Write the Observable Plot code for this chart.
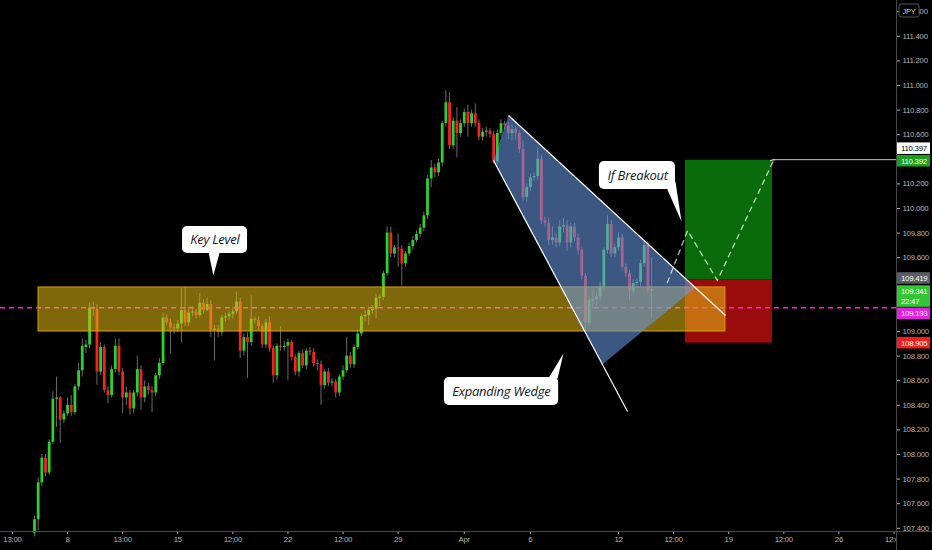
<!DOCTYPE html>
<html><head><meta charset="utf-8">
<script src="https://cdn.jsdelivr.net/npm/d3@7"></script>
<script src="https://cdn.jsdelivr.net/npm/@observablehq/plot@0.6"></script>
<style>
html,body{margin:0;padding:0;background:#000;}
#chart svg{display:block}
</style></head><body><div id="chart"></div>
<script>
// USD/JPY 4h candles (index = candle number)
const opens = [107.36,107.47,107.77,107.97,107.85,108.10,108.45,108.46,108.28,108.33,108.40,108.34,108.55,108.68,108.87,108.89,109.19,109.18,108.67,108.87,108.52,108.48,108.69,108.88,108.67,108.46,108.50,108.37,108.50,108.69,108.46,108.55,108.52,108.50,108.64,108.74,109.11,109.07,109.03,109.02,109.06,109.17,109.07,109.15,109.16,109.13,109.23,109.17,109.22,109.01,109.02,108.99,109.11,109.12,109.14,109.16,109.24,108.84,108.95,108.91,109.10,109.09,109.04,108.89,109.07,108.86,108.64,108.88,108.87,108.88,108.91,108.79,108.67,108.82,108.72,108.84,108.83,108.74,108.73,108.56,108.67,108.58,108.59,108.50,108.63,108.68,108.80,108.73,108.87,108.98,109.12,109.13,109.17,109.18,109.27,109.28,109.47,109.80,109.63,109.68,109.67,109.55,109.63,109.69,109.74,109.79,109.84,109.94,110.24,110.33,110.29,110.37,110.69,110.86,110.51,110.71,110.61,110.69,110.78,110.69,110.77,110.69,110.58,110.62,110.63,110.60,110.38,110.61,110.69,110.67,110.61,110.64,110.61,110.48,110.09,110.17,110.25,110.26,110.40,109.90,109.88,109.74,109.76,109.72,109.85,109.86,109.72,109.85,109.76,109.66,109.45,109.07,109.25,109.26,109.28,109.36,109.66,109.87,109.63,109.68,109.76,109.52,109.47,109.33,109.39,109.40,109.55,109.70,109.33];
const highs = [107.50,107.81,108.00,108.00,108.12,108.51,108.63,108.47,108.35,108.46,108.48,108.57,108.74,108.94,108.93,109.23,109.24,109.22,108.91,108.89,108.55,108.72,108.94,108.94,108.70,108.55,108.52,108.52,108.80,108.72,108.60,108.58,108.55,108.66,108.78,109.15,109.14,109.10,109.06,109.09,109.35,109.36,109.20,109.20,109.18,109.31,109.26,109.27,109.25,109.05,109.05,109.13,109.15,109.16,109.20,109.32,109.27,108.98,108.99,109.29,109.12,109.12,109.06,109.10,109.12,108.88,108.90,109.04,108.92,108.94,108.93,108.81,108.84,108.85,108.86,108.87,108.86,108.77,108.76,108.69,108.70,108.62,108.61,108.65,108.72,108.95,108.83,108.89,109.01,109.14,109.17,109.20,109.21,109.30,109.30,109.49,109.85,109.85,109.70,109.79,109.70,109.65,109.72,109.77,109.82,109.87,109.97,110.27,110.39,110.36,110.40,110.71,110.96,110.94,110.74,110.82,110.72,110.81,110.84,110.80,110.85,110.72,110.65,110.66,110.65,110.63,110.64,110.72,110.71,110.70,110.68,110.66,110.63,110.55,110.20,110.28,110.29,110.49,110.43,109.93,109.92,109.85,109.80,109.90,109.92,109.90,109.88,109.88,109.79,109.68,109.47,109.28,109.33,109.32,109.40,109.68,109.94,109.90,109.71,109.80,109.79,109.55,109.50,109.42,109.43,109.58,109.73,109.73,109.60];
const lows = [107.33,107.38,107.74,107.82,107.83,108.08,108.22,108.09,108.25,108.31,108.31,108.32,108.52,108.63,108.82,108.86,109.12,108.56,108.64,108.50,108.41,108.46,108.66,108.64,108.33,108.40,108.32,108.33,108.47,108.36,108.42,108.48,108.34,108.47,108.61,108.72,109.05,108.82,108.98,108.99,108.91,109.04,109.04,109.12,109.10,109.11,109.14,109.16,108.95,108.76,108.95,108.96,109.08,109.09,109.10,109.14,108.78,108.80,108.62,108.88,109.06,109.01,108.86,108.86,108.83,108.58,108.60,108.84,108.84,108.60,108.76,108.64,108.63,108.70,108.69,108.80,108.71,108.68,108.40,108.53,108.55,108.55,108.46,108.47,108.60,108.66,108.70,108.70,108.85,108.96,109.08,109.05,109.14,109.10,109.20,109.25,109.45,109.60,109.60,109.52,109.37,109.52,109.61,109.66,109.72,109.76,109.81,109.91,110.17,110.25,110.26,110.34,110.66,110.48,110.48,110.41,110.58,110.66,110.58,110.66,110.66,110.55,110.55,110.58,110.57,110.36,110.36,110.58,110.64,110.56,110.55,110.55,110.45,110.06,110.05,110.14,110.22,110.23,109.87,109.85,109.70,109.70,109.68,109.69,109.80,109.65,109.68,109.73,109.62,109.42,109.01,109.04,109.18,109.20,109.24,109.33,109.63,109.60,109.60,109.65,109.49,109.44,109.25,109.30,109.35,109.36,109.52,109.30,109.11];
const closes = [107.47,107.77,107.97,107.85,108.10,108.45,108.46,108.28,108.33,108.40,108.34,108.55,108.68,108.88,108.89,109.19,109.18,108.67,108.87,108.52,108.48,108.69,108.88,108.67,108.46,108.50,108.37,108.50,108.69,108.46,108.55,108.52,108.50,108.64,108.74,109.11,109.07,109.03,109.02,109.06,109.17,109.07,109.15,109.16,109.13,109.23,109.17,109.22,109.01,109.02,108.99,109.11,109.12,109.14,109.16,109.24,108.84,108.95,108.91,109.10,109.09,109.04,108.89,109.07,108.86,108.64,108.88,108.87,108.88,108.91,108.79,108.67,108.82,108.72,108.84,108.83,108.74,108.73,108.56,108.67,108.58,108.59,108.50,108.63,108.68,108.80,108.73,108.87,108.98,109.12,109.13,109.17,109.18,109.27,109.28,109.47,109.80,109.63,109.68,109.67,109.55,109.63,109.69,109.74,109.79,109.84,109.94,110.24,110.33,110.29,110.37,110.69,110.86,110.51,110.71,110.61,110.69,110.78,110.69,110.77,110.69,110.58,110.62,110.63,110.60,110.38,110.61,110.69,110.67,110.61,110.64,110.61,110.48,110.09,110.17,110.25,110.26,110.40,109.90,109.88,109.74,109.76,109.72,109.85,109.86,109.72,109.85,109.76,109.66,109.45,109.07,109.25,109.26,109.28,109.36,109.66,109.87,109.63,109.68,109.76,109.52,109.47,109.33,109.39,109.40,109.55,109.70,109.33,109.34];

const xTicks = [-6,9,24,39,54,69,84,99,117,135,159,174,189,204,219,234];
const xTickLabels = ["13:00","8","13:00","15","12:00","22","12:00","29","Apr","6","12","12:00","19","12:00","26","12:00"];
const yTicks = [107.4,107.6,107.8,108.0,108.2,108.4,108.6,108.8,109.0,109.2,109.4,109.6,109.8,110.0,110.2,110.4,110.6,110.8,111.0,111.2,111.4,111.6];
const yTicksCovered = [109.2, 109.4, 110.4]; // hidden behind price badges

// annotations (candle index, price)
const keyLevelX = [1.1, 188.1];
const keyLevelY = [109.0, 109.358];
const currentLevel = 109.193;
const tradeX = [177.2, 200.9];
const tradeEntry = 109.419, tradeTarget = 110.392, tradeStop = 108.905;
const rayLevel = 110.397, rayStart = 201.2;
const wedgeIdx = [124.97, 129.05, 179.96, 154.6];
const wedgePrice = [110.390, 110.756, 109.358, 108.732];
const wedgeLineX1 = [129.05, 124.97], wedgeLineY1 = [110.756, 110.390];
const wedgeLineX2 = [188.13, 161.45], wedgeLineY2 = [109.130, 108.350];
const pathIdx = [172.3, 177.8, 185.9, 201.2];
const pathPrice = [109.398, 109.821, 109.415, 110.390];
const calloutText = ["Key Level", "If Breakout", "Expanding Wedge"];
const calloutBoxX1 = [40.3, 153.8, 111.6], calloutBoxX2 = [58.0, 174.5, 142.7];
const calloutBoxY1 = [109.634, 110.154, 108.398], calloutBoxY2 = [109.854, 110.382, 108.626];
const calloutTextX = [49.1, 164.2, 127.1], calloutTextY = [109.745, 110.268, 108.512];
const tailIdx = [[47.4, 50.4, 48.7], [172.3, 174.5, 176.15], [139.9, 142.4, 144.0]];
const tailPrice = [[109.642, 109.642, 109.455], [110.154, 110.220, 109.894], [108.618, 108.618, 108.821]];
const badgeValue = [110.397, 110.392, 109.419, 109.341, 109.193, 108.905];
const badgeText = [["110.397"], ["110.392"], ["109.419"], ["109.341", "22:47"], ["109.193"], ["108.905"]];

const GREEN = "#2fcf2f", RED = "#f42323";
const xDomain = [-9.257, 234.68];
const yDomain = [107.374, 111.691];

const candles = opens.map((o, i) => ({i, o, h: highs[i], l: lows[i], c: closes[i]}));
const up = candles.filter(d => d.c >= d.o), down = candles.filter(d => d.c < d.o);
const wedge = wedgeIdx.map((x, k) => ({x, y: wedgePrice[k]}));
const wedgeLines = wedgeLineX1.map((x, k) => ({x1: x, y1: wedgeLineY1[k], x2: wedgeLineX2[k], y2: wedgeLineY2[k]}));
const path = pathIdx.map((x, k) => ({x, y: pathPrice[k]}));
const boxes = calloutText.map((t, k) => ({t, x1: calloutBoxX1[k], x2: calloutBoxX2[k], y1: calloutBoxY1[k], y2: calloutBoxY2[k], tx: calloutTextX[k], ty: calloutTextY[k]}));
const tails = tailIdx.flatMap((xs, k) => xs.map((x, j) => ({k, x, y: tailPrice[k][j]})));
const shownYTicks = yTicks.filter(v => !yTicksCovered.includes(v));

const FONT = "'Liberation Sans',Arial,sans-serif";
const chart = Plot.plot({
  width: 932, height: 550,
  marginTop: 0, marginRight: 36, marginBottom: 19, marginLeft: 0,
  style: {background: "#000", color: "#b4b4b4", fontFamily: FONT, fontSize: "7.8px", letterSpacing: "-0.25px"},
  x: {domain: xDomain, range: [0, 896]},
  y: {domain: yDomain},
  marks: [
    Plot.ruleX(candles, {x: "i", y1: "l", y2: "h", stroke: "#6a6a6a", strokeWidth: 1}),
    Plot.ruleX(up, {x: "i", y1: "o", y2: "c", stroke: GREEN, strokeWidth: 2.8}),
    Plot.ruleX(down, {x: "i", y1: "o", y2: "c", stroke: RED, strokeWidth: 2.8}),
    Plot.rect([0], {x1: tradeX[0], x2: tradeX[1], y1: tradeEntry, y2: tradeTarget, fill: "#0a6b0a"}),
    Plot.rect([0], {x1: tradeX[0], x2: tradeX[1], y1: tradeStop, y2: tradeEntry, fill: "#9a0c0c"}),
    Plot.ruleY([currentLevel], {stroke: "#ff19e0", strokeWidth: 1.6, strokeDasharray: "5,4"}),
    Plot.rect([0], {x1: keyLevelX[0], x2: keyLevelX[1], y1: keyLevelY[0], y2: keyLevelY[1], fill: "rgb(230,190,20)", fillOpacity: 0.55, stroke: "#d9a300", strokeWidth: 1}),
    Plot.line(wedge, {x: "x", y: "y", fill: "rgb(105,150,225)", fillOpacity: 0.58, stroke: "none"}),
    Plot.link(wedgeLines, {x1: "x1", y1: "y1", x2: "x2", y2: "y2", stroke: "#fff", strokeWidth: 1.2}),
    Plot.line(path, {x: "x", y: "y", stroke: "#f0fff0", strokeOpacity: 0.75, strokeWidth: 1.3, strokeDasharray: "5,5", markerEnd: "arrow"}),
    Plot.ruleY([rayLevel], {x1: rayStart, x2: xDomain[1], stroke: "#c8c8c8", strokeWidth: 1}),
    Plot.line(tails, {x: "x", y: "y", z: "k", fill: "#fff", stroke: "none"}),
    Plot.rect(boxes, {x1: "x1", x2: "x2", y1: "y1", y2: "y2", fill: "#fff", rx: 5}),
    Plot.text(boxes, {x: "tx", y: "ty", text: "t", fill: "#131722", fontSize: 13, fontStyle: "italic", fontFamily: "'Open Sans',sans-serif"}),
    Plot.axisY(shownYTicks, {anchor: "right", tickFormat: d3.format(".3f"), tickSize: 3, tickPadding: 3, label: null}),
    Plot.axisX(xTicks, {anchor: "bottom", tickFormat: d => xTickLabels[xTicks.indexOf(d)], tickSize: 3, tickPadding: 2, label: null})
  ]
});

const svg = d3.select(chart);
const ys = chart.scale("y");
// cover overflow of last time label into the price-scale area
svg.append("rect").attr("x", 896.5).attr("y", 532).attr("width", 40).attr("height", 20).attr("fill", "#000");
svg.append("line").attr("x1", 896.5).attr("x2", 896.5).attr("y1", 0).attr("y2", 550).attr("stroke", "#4a4a4a");
svg.append("line").attr("x1", 0).attr("x2", 932).attr("y1", 531.5).attr("y2", 531.5).attr("stroke", "#4a4a4a");

const badgeBg = ["#ffffff", "#1f9f1f", "#5a5d66", "#33c533", "#e61ee6", "#f01e1e"];
const badgeFg = ["#000", "#fff", "#fff", "#fff", "#fff", "#fff"];
const badgeDy = [-11, 1, -1.5, 7, 6, 0];
badgeValue.forEach((v, k) => {
  const lines = badgeText[k];
  const cy = ys.apply(v) + badgeDy[k];
  const h = lines.length === 1 ? 11.5 : 21.5;
  const g = svg.append("g").attr("text-anchor", "start").attr("font-family", FONT).attr("letter-spacing", "-0.25px");
  g.append("rect").attr("x", 897).attr("y", cy - h / 2).attr("width", 33).attr("height", h).attr("fill", badgeBg[k]);
  lines.forEach((t, j) => {
    g.append("text").attr("x", 901).attr("y", cy - h / 2 + 8.6 + j * 10).attr("fill", badgeFg[k])
      .attr("font-size", 7.8).text(t);
  });
});
const jpy = svg.append("g").attr("text-anchor", "middle");
jpy.append("rect").attr("x", 899).attr("y", 4).attr("width", 20).attr("height", 13).attr("rx", 2).attr("fill", "#000").attr("stroke", "#555");
jpy.append("text").attr("x", 909).attr("y", 13.5).attr("fill", "#d0d0d0").attr("font-size", 7.5).text("JPY");

document.getElementById("chart").appendChild(chart);
</script>
</body></html>
